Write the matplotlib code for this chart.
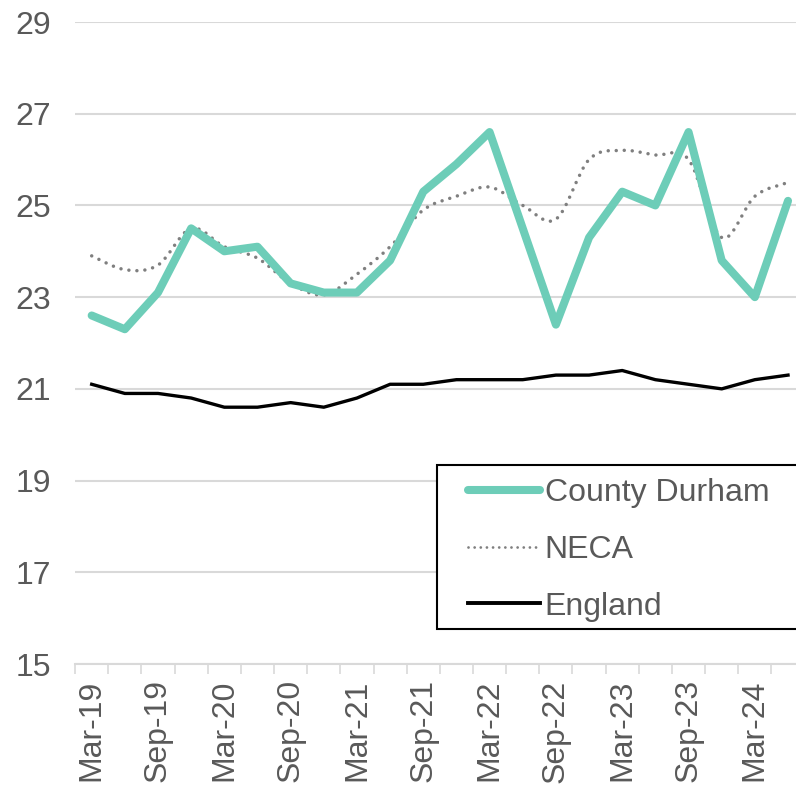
import numpy as np
import matplotlib.pyplot as plt
from matplotlib.path import Path
from matplotlib.patches import PathPatch, Rectangle
from matplotlib.lines import Line2D

plt.rcParams["font.family"] = ["Liberation Sans", "DejaVu Sans"]

# quarterly periods, Mar-19 .. Jun-24
quarters = ["Mar-19", "Jun-19", "Sep-19", "Dec-19", "Mar-20", "Jun-20", "Sep-20", "Dec-20",
            "Mar-21", "Jun-21", "Sep-21", "Dec-21", "Mar-22", "Jun-22", "Sep-22", "Dec-22",
            "Mar-23", "Jun-23", "Sep-23", "Dec-23", "Mar-24", "Jun-24"]

county_durham = [22.6, 22.3, 23.1, 24.5, 24.0, 24.1, 23.3, 23.1, 23.1, 23.8, 25.3, 25.9,
                 26.6, 24.5, 22.4, 24.3, 25.3, 25.0, 26.6, 23.8, 23.0, 25.1]
neca = [23.9, 23.6, 23.7, 24.5, 24.1, 23.85, 23.3, 23.05, 23.5, 24.1, 24.9, 25.2,
        25.4, 25.0, 24.7, 26.0, 26.2, 26.1, 26.0, 24.3, 25.2, 25.5]
england = [21.1, 20.9, 20.9, 20.8, 20.6, 20.6, 20.7, 20.6, 20.8, 21.1, 21.1, 21.2,
           21.2, 21.2, 21.3, 21.3, 21.4, 21.2, 21.1, 21.0, 21.2, 21.3]

y_ticks = [15, 17, 19, 21, 23, 25, 27, 29]

TEAL = "#6DCDB8"
GREY = "#7F7F7F"
GRID = "#D9D9D9"
TEXT = "#595959"
FS = 23


def smooth_path(xs, ys):
    # Bezier segments through every point (spreadsheet-style smoothed line)
    pts = np.column_stack([xs, ys]).astype(float)
    n = len(pts)
    verts = [pts[0]]
    codes = [Path.MOVETO]
    for i in range(n - 1):
        p0 = pts[i - 1] if i > 0 else pts[i]
        p1 = pts[i]
        p2 = pts[i + 1]
        p3 = pts[i + 2] if i + 2 < n else pts[i + 1]
        c1 = p1 + (p2 - p0) / 6.0
        c2 = p2 - (p3 - p1) / 6.0
        verts += [c1, c2, p2]
        codes += [Path.CURVE4] * 3
    return Path(verts, codes)


W, H = 796, 785
fig = plt.figure(figsize=(W / 100, H / 100), dpi=100)
ax = fig.add_axes([75.1 / W, 1 - 664 / H, (804.6 - 75.1) / W, (664 - 22) / H])

x = np.arange(len(quarters))

ax.plot(x, england, color="black", lw=2.4, solid_joinstyle="round", zorder=3)
neca_patch = PathPatch(smooth_path(x, neca), fill=False, edgecolor=GREY, lw=2.5,
                       linestyle=(0, (0.01, 2.3)), capstyle="round", zorder=4)
ax.add_patch(neca_patch)
ax.plot(x, county_durham, color=TEAL, lw=5.8, solid_capstyle="round",
        solid_joinstyle="round", zorder=5)

ax.set_xlim(-0.5, len(quarters) - 0.5)
ax.set_ylim(15, 29)
ax.set_yticks(y_ticks)
ax.yaxis.grid(True, color=GRID, lw=1.5)
ax.set_axisbelow(True)

ax.set_xticks(x[::2])
ax.set_xticklabels(quarters[::2], rotation=90)
ax.set_xticks(np.arange(-0.5, len(quarters), 1), minor=True)
ax.tick_params(axis="x", which="major", length=0, pad=11, labelsize=FS, labelcolor=TEXT)
ax.tick_params(axis="x", which="minor", length=7, width=1.2, color=GRID)
ax.tick_params(axis="y", length=0, pad=17.5, labelsize=FS, labelcolor=TEXT)

for side in ["top", "right", "left"]:
    ax.spines[side].set_visible(False)
ax.spines["bottom"].set_color(GRID)
ax.spines["bottom"].set_linewidth(1.5)

# legend box, running off the right edge
fig.add_artist(Rectangle((437 / W, 1 - 629 / H), 400 / W, (629 - 465) / H,
                         transform=fig.transFigure, facecolor="white",
                         edgecolor="black", lw=1.5, zorder=10))

handles = [
    Line2D([], [], color=TEAL, lw=5.8, solid_capstyle="round"),
    Line2D([], [], color=GREY, lw=2.0, linestyle=(0, (0.01, 2.2)), dash_capstyle="round"),
    Line2D([], [], color="black", lw=2.8),
]
leg = fig.legend(handles, ["County Durham", "NECA", "England"],
                 loc="upper left", bbox_to_anchor=(468 / W, 1 - 478 / H),
                 fontsize=FS, handlelength=2.25, handletextpad=0.15,
                 labelspacing=0.84, borderpad=0, borderaxespad=0, frameon=False)
leg.set_zorder(11)
for t in leg.get_texts():
    t.set_color(TEXT)

fig.savefig("out.png", dpi=100)
